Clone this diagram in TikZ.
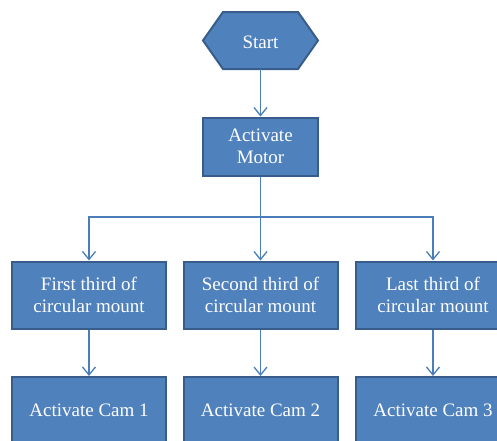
\documentclass[tikz,border=0pt]{standalone}
\usepackage{fontspec}
\setmainfont{Liberation Serif}
\usetikzlibrary{arrows.meta,positioning,calc}
\definecolor{boxfill}{HTML}{4F81BD}
\definecolor{boxline}{HTML}{385D8A}
\definecolor{conn}{HTML}{4A7EBB}
\tikzset{
  blockbox/.style={rectangle, fill=boxfill, draw=boxline, line width=2pt, text=white,
    align=center, font=\fontsize{19}{22.5}\selectfont, inner sep=0pt},
  flowline/.style={draw=conn, line width=1.3pt},
  flowarrow/.style={flowline, -{Straight Barb[length=8pt,width=13pt,line width=1.3pt]}},
}
\begin{document}
\begin{tikzpicture}[x=1pt,y=-1pt]
\useasboundingbox (0,0) rectangle (497,440);
% Start hexagon
\path[fill=boxfill, draw=boxline, line width=2pt, line join=miter]
  (203,40.5) -- (223,12) -- (298,12) -- (318,40.5) -- (298,69) -- (223,69) -- cycle;
\node (start) [text=white, font=\fontsize{19}{22.5}\selectfont, minimum width=115pt, minimum height=57pt, inner sep=0pt] at (260.5,42.5) {Start};
\node (motor) [blockbox, minimum width=115pt, minimum height=58pt] at (260.5,146.5) {Activate\\Motor};
\node (t1) [blockbox, minimum width=154pt, minimum height=67pt] at (89,295) {First third of\\circular mount};
\node (t2) [blockbox, minimum width=154pt, minimum height=67pt] at (260.5,295) {Second third of\\circular mount};
\node (t3) [blockbox, minimum width=154pt, minimum height=67pt] at (433,295) {Last third of\\circular mount};
\node (c1) [blockbox, minimum width=154pt, minimum height=67pt] at (89,410.5) {Activate Cam 1};
\node (c2) [blockbox, minimum width=154pt, minimum height=67pt] at (260.5,410.5) {Activate Cam 2};
\node (c3) [blockbox, minimum width=154pt, minimum height=67pt] at (433,410.5) {Activate Cam 3};
\coordinate (fork) at (260.5,217);
\draw[flowarrow] (start.south) ++(0,-2) -- (motor.north);
\draw[flowline] (motor.south) -- (fork);
\draw[flowarrow] (fork) -| (t1.north);
\draw[flowarrow] (fork) -- (t2.north);
\draw[flowarrow] (fork) -| (t3.north);
\draw[flowarrow] (t1.south) -- (c1.north);
\draw[flowarrow] (t2.south) -- (c2.north);
\draw[flowarrow] (t3.south) -- (c3.north);
\end{tikzpicture}
\end{document}
